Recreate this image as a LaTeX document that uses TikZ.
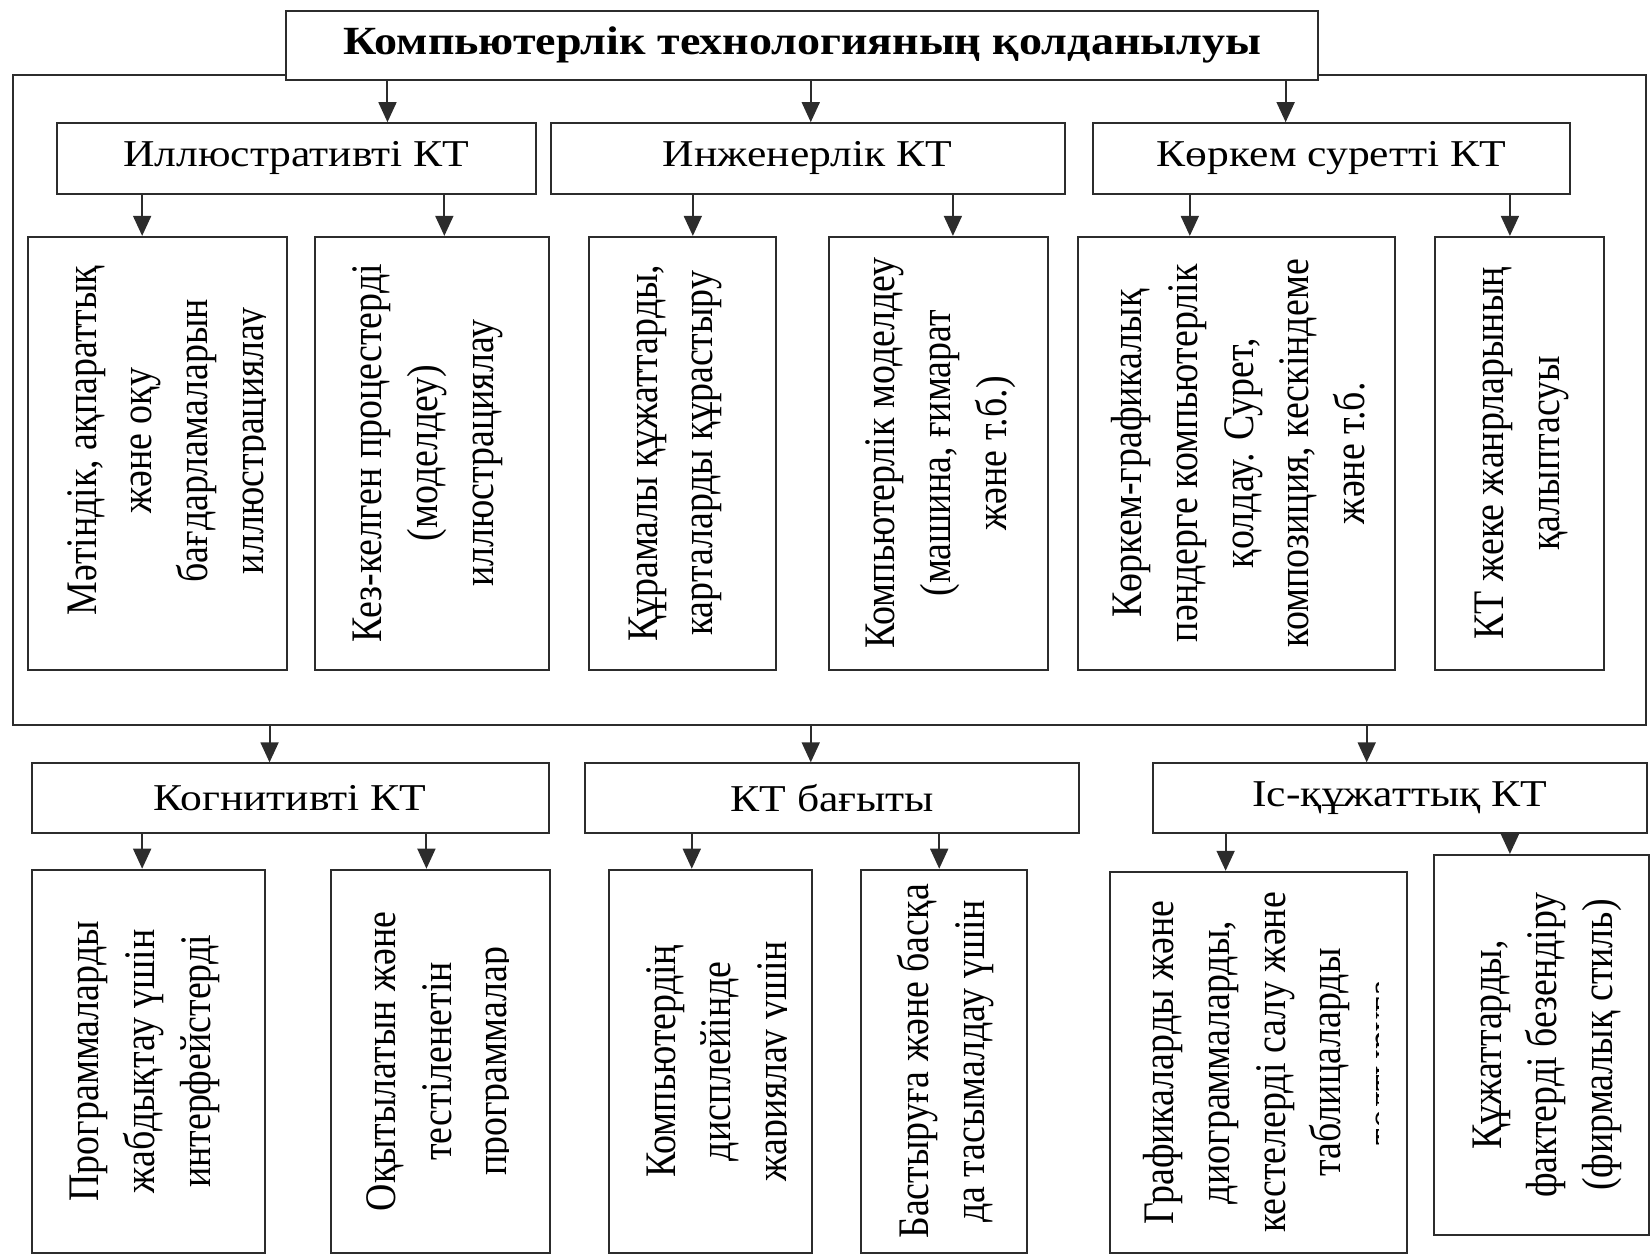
\documentclass[tikz,border=0pt]{standalone}
\usepackage{fontspec}
\setmainfont{Liberation Serif}
\usepackage{graphicx}
\usetikzlibrary{arrows.meta,fit}
\definecolor{linec}{HTML}{2C2C2C}
\newcommand{\vlab}[1]{\scalebox{1.15}[1]{\rotatebox{90}{\begin{tabular}{@{}c@{}}#1\end{tabular}}}}
\newcommand{\hlab}[1]{\scalebox{1.15}[1]{#1}}
\begin{document}
\begin{tikzpicture}[x=1pt,y=-1pt,
  box/.style={draw=linec,line width=1.9pt,inner sep=0pt,fill=white},
  hl/.style={inner sep=0pt,font=\fontsize{36}{44}\selectfont},
  vl/.style={inner sep=0pt,font=\fontsize{36}{46}\selectfont},
  arr/.style={draw=linec,line width=1.9pt,-{Triangle[width=17pt,length=19pt]}},
  frameline/.style={draw=linec,line width=1.9pt}]
\useasboundingbox (0,0) rectangle (1568,1192);

% frame corners
\coordinate (fTL) at (12,71);
\coordinate (fBL) at (12,689);
\coordinate (fBR) at (1563,689);
\coordinate (fTR) at (1563,71);

% title
\node[box,fit={(272,10) (1252,76)}] (title) {};
\node[hl,font=\bfseries\fontsize{38}{44}\selectfont] (titlet) at (title.center) {\hlab{Компьютерлік технологияның қолданылуы}};
\draw[frameline] (title.west |- fTL) -- (fTL) -- (fBL) -- (fBR) -- (fTR) -- (title.east |- fTR);

% row 2
\node[box,fit={(54,117) (509,184)}] (il) {};
\node[box,fit={(523,117) (1011,184)}] (in) {};
\node[box,fit={(1038,117) (1491,184)}] (kr) {};
\node[hl] (ilt) at (il.center) {\hlab{Иллюстративті КТ}};
\node[hl] (int) at (in.center) {\hlab{Инженерлік КТ}};
\node[hl] (krt) at (kr.center) {\hlab{Көркем суретті КТ}};

% row 3 boxes
\node[box,fit={(27,225) (273,636)}] (A) {};
\node[box,fit={(299,225) (521,636)}] (B) {};
\node[box,fit={(559,225) (737,636)}] (C) {};
\node[box,fit={(787,225) (995,636)}] (D) {};
\node[box,fit={(1024,225) (1325,636)}] (E) {};
\node[box,fit={(1363,225) (1523,636)}] (F) {};

% row 4
\node[box,fit={(30,725) (521,791)}] (kg) {};
\node[box,fit={(556,725) (1025,791)}] (bg) {};
\node[box,fit={(1095,725) (1564,791)}] (is) {};
\node[hl] (kgt) at (kg.center) {\hlab{Когнитивті КТ}};
\node[hl] (bgt) at (bg.center) {\hlab{КТ бағыты}};
\node[hl] (ist) at (is.center) {\hlab{Іс-құжаттық КТ}};

% row 5 boxes
\node[box,fit={(30,826) (252,1190)}] (P) {};
\node[box,fit={(314,826) (522,1190)}] (Q) {};
\node[box,fit={(578,826) (771,1190)}] (R) {};
\node[box,fit={(818,826) (975,1190)}] (S) {};
\node[box,fit={(1054,828) (1336,1190)}] (T) {};
\node[box,fit={(1362,812) (1566,1173)}] (U) {};

% texts row 3
\begin{scope}
\clip (A.north west) rectangle (252,636);
\node[vl] (At) at ([shift={(10,-12)}]A.center) {\vlab{Мәтіндік, ақпараттық\\ және оқу\\ бағдарламаларын\\ иллюстрациялау}};
\end{scope}
\node[vl] (Bt) at ([shift={(-5,0)}]B.center) {\vlab{Кез-келген процестерді\\ (моделдеу)\\ иллюстрациялау}};
\node[vl] (Ct) at ([shift={(-8,0)}]C.center) {\vlab{Құрамалы құжаттарды,\\ карталарды құрастыру}};
\node[vl] (Dt) at ([shift={(1,0)}]D.center) {\vlab{Компьютерлік моделдеу\\ (машина, ғимарат\\ және т.б.)}};
\node[vl] (Et) at ([shift={(5,0)}]E.center) {\vlab{Көркем-графикалық\\ пәндерге компьютерлік\\ қолдау. Сурет,\\ композиция, кескіндеме\\ және т.б.}};
\node[vl] (Ft) at ([shift={(1,0)}]F.center) {\vlab{КТ жеке жанрларының\\ қалыптасуы}};

% texts row 5
\node[vl] (Pt) at ([shift={(-5,0)}]P.center) {\vlab{Программаларды\\ жабдықтау үшін\\ интерфейстерді}};
\begin{scope}
\clip (Q.north west) rectangle (483,1190);
\node[vl] (Qt) at (Q.center) {\vlab{Оқытылатын және\\ тестіленетін\\ программалар}};
\end{scope}
\begin{scope}
\clip (R.north west) rectangle (747,1190);
\node[vl] (Rt) at ([shift={(9,0)}]R.center) {\vlab{Компьютердің\\ дисплейінде\\ жариялау үшін}};
\end{scope}
\node[vl] (St) at ([shift={(1,0)}]S.center) {\vlab{Бастыруға және басқа\\ да тасымалдау үшін}};
\begin{scope}
\clip (T.north west) rectangle (1309,1190);
\node[vl] (Tt) at ([shift={(15,0)}]T.center) {\vlab{Графикаларды және\\ диограммаларды,\\ кестелерді салу және\\ таблицаларды\\ толтыруға}};
\end{scope}
\node[vl] (Ut) at ([shift={(4,0)}]U.center) {\vlab{Құжаттарды,\\ фактерді безендіру\\ (фирмалық стиль)}};

% arrow x positions
\coordinate (c1) at (368,0);
\coordinate (c2) at (770,0);
\coordinate (c3) at (1221,0);
\coordinate (c4) at (135,0);
\coordinate (c5) at (422,0);
\coordinate (c6) at (658,0);
\coordinate (c7) at (905,0);
\coordinate (c8) at (1130,0);
\coordinate (c9) at (1434,0);
\coordinate (c10) at (256,0);
\coordinate (c11) at (770,0);
\coordinate (c12) at (1298,0);
\coordinate (c13) at (135,0);
\coordinate (c14) at (405,0);
\coordinate (c15) at (657,0);
\coordinate (c16) at (892,0);
\coordinate (c17) at (1164,0);
\coordinate (c18) at (1434,0);

% arrows
\draw[arr] (c1 |- title.south) -- (c1 |- il.north);
\draw[arr] (c2 |- title.south) -- (c2 |- in.north);
\draw[arr] (c3 |- title.south) -- (c3 |- kr.north);
\draw[arr] (c4 |- il.south) -- (c4 |- A.north);
\draw[arr] (c5 |- il.south) -- (c5 |- B.north);
\draw[arr] (c6 |- in.south) -- (c6 |- C.north);
\draw[arr] (c7 |- in.south) -- (c7 |- D.north);
\draw[arr] (c8 |- kr.south) -- (c8 |- E.north);
\draw[arr] (c9 |- kr.south) -- (c9 |- F.north);
\draw[arr] (c10 |- fBL) -- (c10 |- kg.north);
\draw[arr] (c11 |- fBL) -- (c11 |- bg.north);
\draw[arr] (c12 |- fBL) -- (c12 |- is.north);
\draw[arr] (c13 |- kg.south) -- (c13 |- P.north);
\draw[arr] (c14 |- kg.south) -- (c14 |- Q.north);
\draw[arr] (c15 |- bg.south) -- (c15 |- R.north);
\draw[arr] (c16 |- bg.south) -- (c16 |- S.north);
\draw[arr] (c17 |- is.south) -- (c17 |- T.north);
\draw[arr] (c18 |- is.south) -- (c18 |- U.north);
\end{tikzpicture}
\end{document}
